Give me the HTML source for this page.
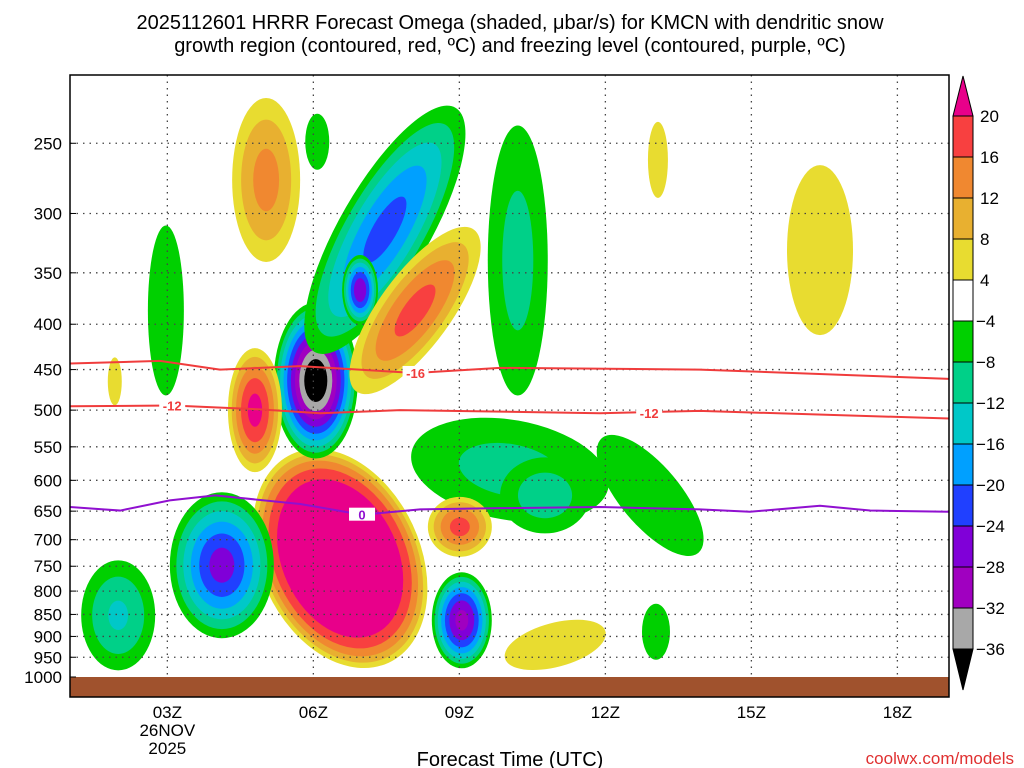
<!DOCTYPE html>
<html><head><meta charset="utf-8">
<style>
body{margin:0;background:#fff;width:1024px;height:768px;overflow:hidden;font-family:"Liberation Sans",sans-serif}
svg{display:block}
</style></head>
<body>
<svg id="chart" width="1024" height="768" xmlns="http://www.w3.org/2000/svg">
<text x="510" y="29" text-anchor="middle" font-size="20" font-family="Liberation Sans, sans-serif">2025112601 HRRR Forecast Omega (shaded, μbar/s) for KMCN with dendritic snow</text>
<text x="510" y="52" text-anchor="middle" font-size="20" font-family="Liberation Sans, sans-serif">growth region (contoured, red, ºC) and freezing level (contoured, purple, ºC)</text>
<defs><clipPath id="clip"><rect x="70" y="75" width="879" height="622"/></clipPath></defs>
<g id="fills" clip-path="url(#clip)"></g>
<rect x="70" y="677" width="879" height="20" fill="#a0522d"/>
<g id="grid"></g>
<g id="lines" clip-path="url(#clip)"></g>
<rect x="70" y="75" width="879" height="622" fill="none" stroke="#000" stroke-width="1.5"/>
<g id="axes"></g>
<g id="cbar"></g>
<text x="510" y="766" text-anchor="middle" font-size="20">Forecast Time (UTC)</text>
<text x="1014" y="764" text-anchor="end" font-size="17" fill="#e03030">coolwx.com/models</text>
</svg>
<script>
// ---- data ----
const featHours = [6.55,6.05,7.47,6.96,5.03,8.09,4.8,4.12,1.99,2.97,1.92,6.08,10.2,10.04,12.92,10.76,9.01,9.05,10.97,13.04,13.08,16.41];
const featPress = [735,463,313,366,275,386,500,748,852,386,464,249,339,584,624,624,677,863,920,889,261,330];
const featPeak  = [26,-42,-22,-28,14,18,22,-27,-13,-6,6,-6,-10,-10,-6,-11,18,-30,6,-6,6,6];
// shape: rx, ry (px), rotation deg, sharpness
const featShape = [[115,80,65,0.25],[42,78,0,0.7],[141,45,-60,0.6],[18,35,0,0.6],[34,82,0,0.6],[100,36,-54,0.6],[27,62,0,0.6],[52,73,0,0.7],[37,55,0,0.6],[18,85,0,0.6],[7,24,0,0.6],[12,28,0,0.6],[30,135,0,0.6],[100,50,10,0.6],[75,30,50,0.6],[45,38,0,0.6],[32,30,0,0.6],[30,48,0,0.6],[52,22,-15,0.6],[14,28,0,0.6],[10,38,0,0.6],[33,85,0,0.6]];
const posLevels=[4,8,12,16,20];
const posColors=['#e8dc30','#e8b030','#f08830','#f84040','#e8008a'];
const negLevels=[-4,-8,-12,-16,-20,-24,-28,-32,-36];
const negColors=['#00d000','#00d088','#00c8c8','#00a0ff','#2040ff','#8000d8','#a000c0','#a8a8a8','#000000'];
const cbarLabels=['20','16','12','8','4','−4','−8','−12','−16','−20','−24','−28','−32','−36'];
const pTicks=[250,300,350,400,450,500,550,600,650,700,750,800,850,900,950,1000];
const hTicks=[3,6,9,12,15,18];
const hLabels=['03Z','06Z','09Z','12Z','15Z','18Z'];
const line16H=[1,2.85,4.08,5.73,8.09,9.83,13.94,19.06];
const line16P=[443,440,450,446,454,448,450,461];
const line12H=[1,3.1,4.9,6.14,7.78,11.89,13.94,19.06];
const line12P=[495,494,499,504,500,504,501,511];
const line0H=[1,2.03,3.05,3.98,5.73,7.0,8.19,9.83,11.89,13.94,14.97,16.41,17.44,19.06];
const line0P=[643,649,632,624,638,656,647,645,643,647,651,641,649,651];
// ---- axes ----
const X=h=>70+(h-1)*48.67;
const Y=p=>677-(Math.log(1000)-Math.log(p))*385;
const NS='http://www.w3.org/2000/svg';
function mk(tag,parent,attrs){const e=document.createElementNS(NS,tag);for(const k in attrs)e.setAttribute(k,attrs[k]);parent.appendChild(e);return e;}
const fills=document.getElementById('fills');
featHours.forEach((h,i)=>{
  const pk=featPeak[i],[rx,ry,rot,s]=featShape[i];
  const cx=X(h),cy=Y(featPress[i]);
  const lv=pk>0?posLevels:negLevels, cl=pk>0?posColors:negColors;
  for(let k=0;k<lv.length;k++){
    const t=lv[k];
    if(pk>0? t>=pk : t<=pk) break;
    const f=Math.pow((pk-t)/(pk-lv[0]),s);
    const e=mk('ellipse',fills,{cx:cx,cy:cy,rx:rx*f,ry:ry*f,fill:cl[k],transform:`rotate(${rot} ${cx} ${cy})`});
    
    
  }
});
const grid=document.getElementById('grid'),axes=document.getElementById('axes');
pTicks.forEach(p=>{
  const y=Y(p);
  if(p<1000){const l=mk('line',grid,{x1:70,x2:949,y1:y,y2:y,stroke:'#444','stroke-dasharray':'1.5 5','stroke-width':1.3});
  }
  const t=mk('text',axes,{x:62,y:y+6,'text-anchor':'end','font-size':17});t.textContent=p;
  
  mk('line',axes,{x1:70,x2:76,y1:y,y2:y,stroke:'#000'});
});
hTicks.forEach((h,i)=>{
  const x=X(h);
  const l=mk('line',grid,{x1:x,x2:x,y1:75,y2:677,stroke:'#444','stroke-dasharray':'1.5 5','stroke-width':1.3});
  
  const t=mk('text',axes,{x:x,y:718,'text-anchor':'middle','font-size':17});t.textContent=hLabels[i];
  
});
[['26NOV',736],['2025',754]].forEach(([s,y])=>{const t=mk('text',axes,{x:X(3),y:y,'text-anchor':'middle','font-size':17});t.textContent=s;
});
const lines=document.getElementById('lines');
function drawLine(H,P,color,name){
  const d=H.map((h,i)=>(i?'L':'M')+X(h)+' '+Y(P[i])).join(' ');
  const e=mk('path',lines,{d:d,fill:'none',stroke:color,'stroke-width':2});
  
}
drawLine(line16H,line16P,'#f03c3c','isotherm-minus16');
drawLine(line12H,line12P,'#f03c3c','isotherm-minus12');
drawLine(line0H,line0P,'#9010d0','freezing-level');
function lab(h,p,s,c){const x=X(h),y=Y(p);mk('rect',lines,{x:x-13,y:y-7,width:26,height:13,fill:'#fff'});
const t=mk('text',lines,{x:x,y:y+5,'text-anchor':'middle','font-size':13,'font-weight':'bold',fill:c});t.textContent=s;
}
lab(8.1,454,'-16','#f03c3c');lab(3.1,494,'-12','#f03c3c');lab(12.9,504,'-12','#f03c3c');lab(7.0,656,'0','#9010d0');
// colorbar
const cb=document.getElementById('cbar');
const allColors=posColors.slice().reverse().concat(['#ffffff']).concat(negColors);
const cbTop=116,cbStep=41,cbX0=953,cbW=20;
mk('path',cb,{d:`M${cbX0} ${cbTop} L${cbX0+cbW/2} 76 L${cbX0+cbW} ${cbTop} Z`,fill:allColors[0],stroke:'#000'});
for(let i=1;i<allColors.length-1;i++){
  const r=mk('rect',cb,{x:cbX0,y:cbTop+(i-1)*cbStep,width:cbW,height:cbStep,fill:allColors[i],stroke:'#000'});
  
}
const cbBot=cbTop+13*cbStep;
mk('path',cb,{d:`M${cbX0} ${cbBot} L${cbX0+cbW/2} 690 L${cbX0+cbW} ${cbBot} Z`,fill:'#000',stroke:'#000'});
cbarLabels.forEach((s,i)=>{const t=mk('text',cb,{x:s.startsWith('−')?976:980,y:cbTop+i*cbStep+6,'font-size':17});t.textContent=s;
});
</script>
</body></html>
